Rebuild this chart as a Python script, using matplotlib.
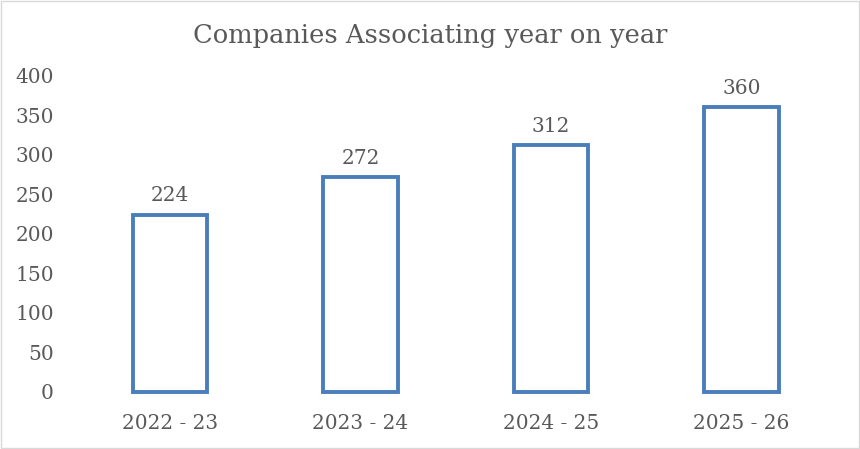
import matplotlib.pyplot as plt
import numpy as np

years = ['2022 - 23', '2023 - 24', '2024 - 25', '2025 - 26']
companies = [224, 272, 312, 360]

plt.rcParams['font.family'] = ['DejaVu Serif']
text_color = '#595959'

fig = plt.figure(figsize=(8.6, 4.49), dpi=100)
ax = fig.add_axes([0.087, 0.127, 0.886, 0.704])

x = np.arange(len(years))
bars = ax.bar(x, companies, width=0.39, facecolor='white',
              edgecolor='#4a7ebb', linewidth=2.8, clip_on=False)

for xi, v in zip(x, companies):
    ax.text(xi, v + 12, str(v), ha='center', va='bottom',
            fontsize=14.5, color=text_color)

ax.set_xlim(-0.5, len(years) - 0.5)
ax.set_ylim(0, 400)
ax.set_yticks(range(0, 401, 50))
ax.set_xticks(x)
ax.set_xticklabels(years)
ax.tick_params(axis='both', length=0, labelsize=14.5, labelcolor=text_color)
ax.tick_params(axis='y', pad=15)
ax.tick_params(axis='x', pad=16)
for s in ax.spines.values():
    s.set_visible(False)

fig.suptitle('Companies Associating year on year', y=0.948,
             fontsize=18.5, color=text_color)

# light border round the picture
fig.patches.append(plt.Rectangle((0.001, 0.002), 0.998, 0.996,
                                 transform=fig.transFigure, fill=False,
                                 edgecolor='#d9d9d9', linewidth=1))

fig.savefig('out.png', dpi=100)
